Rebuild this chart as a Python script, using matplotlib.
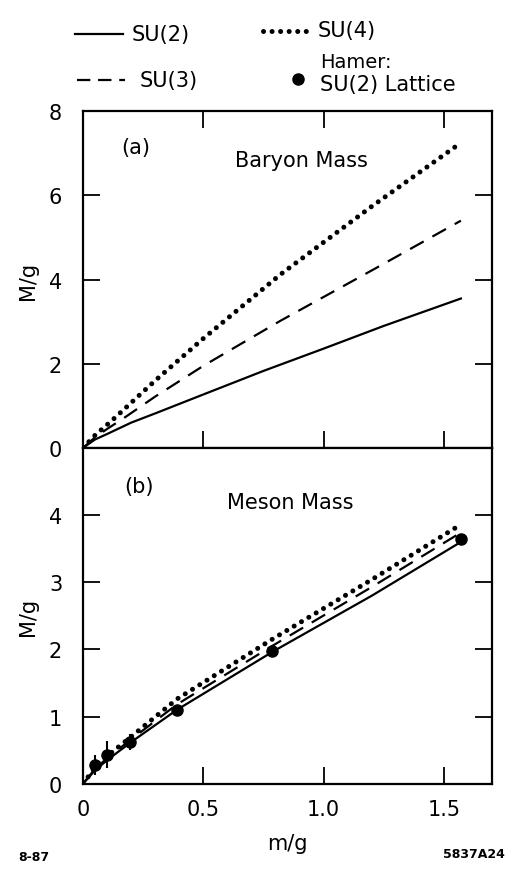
import matplotlib
matplotlib.use("Agg")
import matplotlib.pyplot as plt
from matplotlib.lines import Line2D

# ---- data ----
# (a) Baryon mass
bar_su2_m = [0, 0.05, 0.1, 0.2, 0.3, 0.5, 0.75, 1.0, 1.25, 1.57]
bar_su2_M = [0, 0.2, 0.33, 0.6, 0.82, 1.27, 1.83, 2.36, 2.9, 3.55]
bar_su3_m = [0, 0.05, 0.1, 0.165, 0.3, 0.5, 0.82, 1.21, 1.57]
bar_su3_M = [0, 0.25, 0.45, 0.69, 1.22, 1.95, 3.02, 4.25, 5.4]
bar_su4_m = [0, 0.05, 0.12, 0.3, 0.5, 0.82, 1.2, 1.57]
bar_su4_M = [0, 0.3, 0.65, 1.6, 2.6, 4.12, 5.74, 7.25]

# (b) Meson mass
mes_m = [0, 0.05, 0.1, 0.2, 0.39, 0.79, 1.2, 1.57]
mes_su2_M = [0, 0.2, 0.35, 0.62, 1.1, 1.97, 2.8, 3.6]
mes_su3_M = [0, 0.22, 0.38, 0.66, 1.18, 2.06, 2.93, 3.74]
mes_su4_M = [0, 0.24, 0.41, 0.7, 1.26, 2.16, 3.04, 3.86]

# Hamer SU(2) lattice points
ham_m = [0.049, 0.098, 0.196, 0.39, 0.785, 1.57]
ham_M = [0.28, 0.43, 0.62, 1.1, 1.98, 3.64]
ham_err = [0.15, 0.2, 0.12, 0, 0, 0]

x_ticks = [0, 0.5, 1.0, 1.5]
x_ticklabels = ["0", "0.5", "1.0", "1.5"]
ya_ticks = [0, 2, 4, 6, 8]
yb_ticks = [0, 1, 2, 3, 4]

# ---- styling ----
FS = 15
solid = dict(color="black", lw=1.6, linestyle="-")
dashed = dict(color="black", lw=1.6, linestyle=(0, (7, 4.5)))
dotted = dict(color="black", lw=3.6, linestyle=(0, (0.01, 1.7)),
              dash_capstyle="round")

fig = plt.figure(figsize=(5.09, 8.70), dpi=100)
axA = fig.add_axes([0.163, 0.484, 0.804, 0.387])
axB = fig.add_axes([0.163, 0.098, 0.804, 0.386])

for ax in (axA, axB):
    ax.set_xlim(0, 1.7)
    for s in ax.spines.values():
        s.set_linewidth(1.6)
    ax.tick_params(direction="in", length=12, width=1.3, right=True,
                   labelsize=FS)
    ax.tick_params(axis="y", pad=15)
    ax.tick_params(axis="x", pad=11)
    ax.set_xticks(x_ticks)

axA.tick_params(top=True)
axB.tick_params(top=False)

# panel a
axA.plot(bar_su2_m, bar_su2_M, **solid)
axA.plot(bar_su3_m, bar_su3_M, **dashed)
axA.plot(bar_su4_m, bar_su4_M, **dotted)
axA.set_ylim(0, 8)
axA.set_yticks(ya_ticks)
axA.set_xticklabels([])
axA.set_ylabel("M/g", fontsize=FS, labelpad=8)
axA.text(0.16, 7.0, "(a)", fontsize=FS)
axA.text(0.63, 6.7, "Baryon Mass", fontsize=FS)

# panel b
axB.plot(mes_m, mes_su2_M, **solid)
axB.plot(mes_m, mes_su3_M, **dashed)
axB.plot(mes_m, mes_su4_M, **dotted)
axB.errorbar(ham_m, ham_M, yerr=ham_err, fmt="o", color="black",
             ms=8, elinewidth=1.5, capsize=0)
axB.set_ylim(0, 5)
axB.set_yticks(yb_ticks)
axB.set_xticklabels(x_ticklabels)
axB.set_ylabel("M/g", fontsize=FS, labelpad=8)
axB.set_xlabel("m/g", fontsize=FS, labelpad=10)
axB.text(0.17, 4.35, "(b)", fontsize=FS)
axB.text(0.6, 4.1, "Meson Mass", fontsize=FS)

# ---- legend drawn at figure level ----
W, H = 509.0, 870.0
def fx(px): return px / W
def fy(py): return 1 - py / H

fig.add_artist(Line2D([fx(75), fx(123)], [fy(35), fy(35)], **solid))
fig.text(fx(132), fy(35), "SU(2)", fontsize=FS, va="center")
fig.add_artist(Line2D([fx(263), fx(312)], [fy(32), fy(32)], **dotted))
fig.text(fx(318), fy(31), "SU(4)", fontsize=FS, va="center")
fig.add_artist(Line2D([fx(77), fx(125)], [fy(81), fy(81)],
                      color="black", lw=1.6, linestyle=(0, (6, 3.5))))
fig.text(fx(140), fy(81), "SU(3)", fontsize=FS, va="center")
fig.add_artist(Line2D([fx(298)], [fy(80)], marker="o", ms=8,
                      color="black", linestyle="none"))
fig.text(fx(320), fy(63), "Hamer:", fontsize=FS - 1, va="center")
fig.text(fx(320), fy(85), "SU(2) Lattice", fontsize=FS, va="center")

fig.text(fx(18), fy(858), "8-87", fontsize=9, fontweight="bold", va="center")
fig.text(fx(505), fy(855), "5837A24", fontsize=9, fontweight="bold",
         va="center", ha="right")

fig.savefig("out.png", dpi=100)
